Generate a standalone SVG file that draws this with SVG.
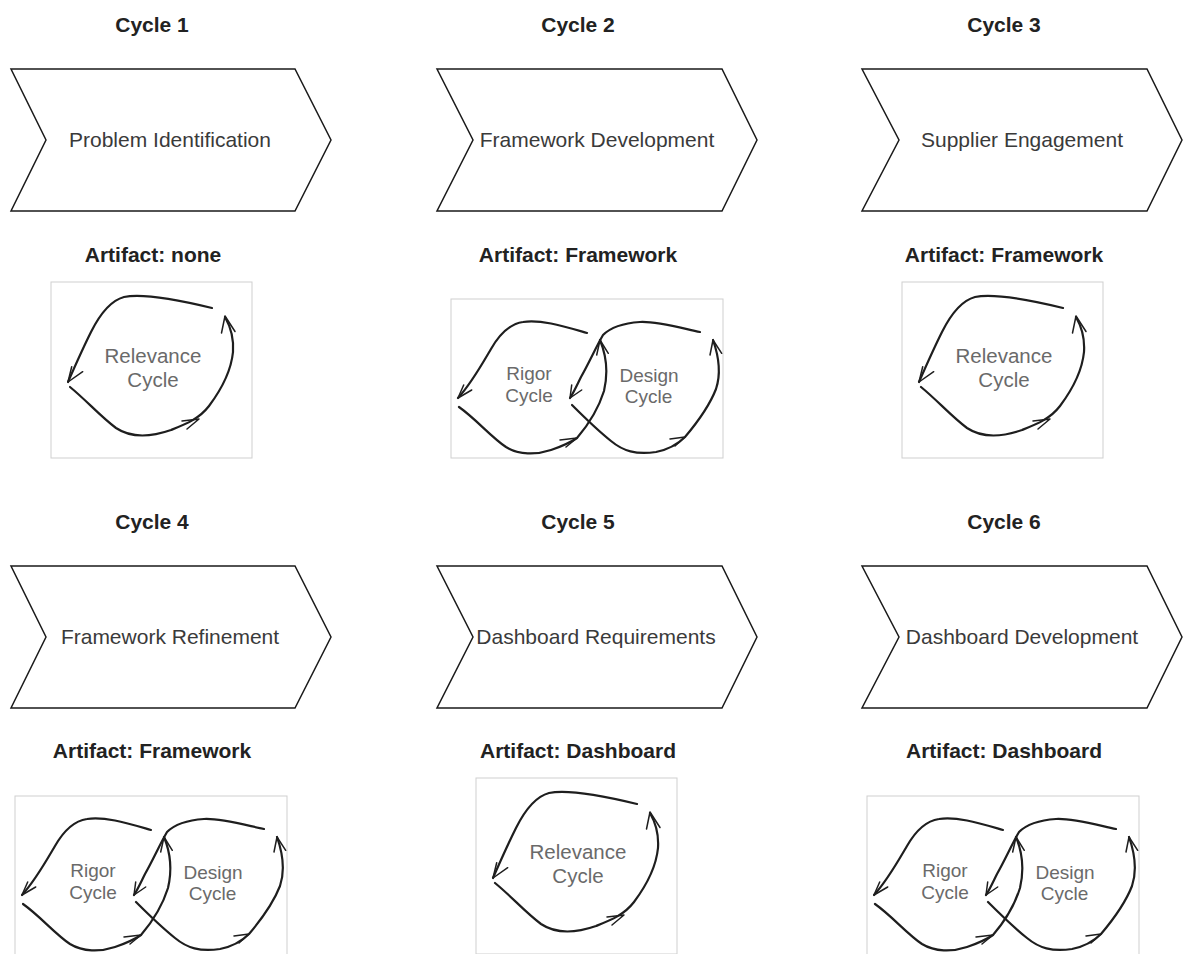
<svg xmlns="http://www.w3.org/2000/svg" xmlns:xlink="http://www.w3.org/1999/xlink" width="1183" height="954" viewBox="0 0 1183 954">
<style>
.chev{fill:#fff;stroke:#1a1a1a;stroke-width:1.5;stroke-linejoin:miter}
.title{font-family:"Liberation Sans",Arial,sans-serif;font-size:21px;font-weight:bold;fill:#222;text-anchor:middle}
.ctext{font-family:"Liberation Sans",Arial,sans-serif;font-size:21px;fill:#3a3a3a;text-anchor:middle}
.box{fill:#fff;stroke:#cfcfcf;stroke-width:1}
.sk{fill:none;stroke:#1e1e1e;stroke-width:2.2;stroke-linecap:round;stroke-linejoin:round}
.ah{fill:none;stroke:#1e1e1e;stroke-width:1.5;stroke-linecap:round;stroke-linejoin:round}
.lbl{font-family:"Liberation Sans",Arial,sans-serif;fill:#6a6a6a;text-anchor:middle}
</style>
<defs>
<g id="relevance">
<rect class="box" x="0" y="0" width="201" height="176"/>
<path class="sk" d="M161,26 C128,18 92,11 73,15 C58,19 48,34 40,50 C32,66 24,84 17,100"/>
<path class="ah" d="M20.7,84.7 L17,100 L31.7,89.7"/>
<path class="sk" d="M19,105 C35,118 50,135 65,146 C80,156 100,155 120,148 C135,142 148,137 158,124 C170,108 180,90 182,70 C183,55 178,42 174,35"/>
<path class="ah" d="M131,139 L148,137 L136,147"/>
<path class="ah" d="M170.5,51 L174,34 L184,49.5"/>
<text class="lbl" font-size="20.5" x="102" y="81">Relevance</text>
<text class="lbl" font-size="20.5" x="102" y="104.5">Cycle</text>
</g>
<g id="rigordesign">
<rect class="box" x="0" y="0" width="272" height="159"/>
<path class="sk" d="M136,34 C115,28 90,20 72,23 C58,25 48,36 40,50 C30,67 20,85 7,99"/>
<path class="ah" d="M12.7,86 L7,99 L20.7,91"/>
<path class="sk" d="M8,108 C25,120 40,138 55,148 C68,156 85,156 100,151 C112,147 120,143 126,139 C138,125 148,108 153,92 C157,75 156,58 149,41"/>
<path class="ah" d="M109,141 L126,139 L115,148"/>
<path class="ah" d="M145.7,56 L149,41 L157.3,54.3"/>
<path class="sk" d="M249,33 C230,29 205,22 189,23 C175,24 160,28 152,36 C145,48 138,64 130,78 C126,86 123,93 119,99"/>
<path class="ah" d="M120.7,86 L119,99 L130.7,91"/>
<path class="sk" d="M121,106 C130,115 145,130 160,142 C172,152 185,156 205,153 C220,150 228,144 234,138 C245,125 258,108 265,90 C270,75 268,58 262,41"/>
<path class="ah" d="M219,140 L234,138 L224,147"/>
<path class="ah" d="M259,56 L262,41 L270.7,54.3"/>
<text class="lbl" font-size="19" x="78" y="81">Rigor</text>
<text class="lbl" font-size="19" x="78" y="102.5">Cycle</text>
<text class="lbl" font-size="19" x="198" y="82.5">Design</text>
<text class="lbl" font-size="19" x="197.5" y="104">Cycle</text>
</g>
</defs>

<g id="cycle1">
<text class="title" x="152" y="32">Cycle 1</text>
<polygon class="chev" points="11,69 295,69 331,140 295,211 11,211 46,140"/>
<text class="ctext" x="170" y="147">Problem Identification</text>
<text class="title" x="153" y="262">Artifact: none</text>
<use xlink:href="#relevance" href="#relevance" x="51" y="282"/>
</g>

<g id="cycle2">
<text class="title" x="578" y="32">Cycle 2</text>
<polygon class="chev" points="437,69 722,69 757,140 722,211 437,211 473,140"/>
<text class="ctext" x="597" y="147">Framework Development</text>
<text class="title" x="578" y="262">Artifact: Framework</text>
<use xlink:href="#rigordesign" href="#rigordesign" x="451" y="299"/>
</g>

<g id="cycle3">
<text class="title" x="1004" y="32">Cycle 3</text>
<polygon class="chev" points="862,69 1147,69 1182,140 1147,211 862,211 899,140"/>
<text class="ctext" x="1022" y="147">Supplier Engagement</text>
<text class="title" x="1004" y="262">Artifact: Framework</text>
<use xlink:href="#relevance" href="#relevance" x="902" y="282"/>
</g>

<g id="cycle4">
<text class="title" x="152" y="529">Cycle 4</text>
<polygon class="chev" points="11,566 295,566 331,637 295,708 11,708 46,637"/>
<text class="ctext" x="170" y="644">Framework Refinement</text>
<text class="title" x="152" y="758">Artifact: Framework</text>
<use xlink:href="#rigordesign" href="#rigordesign" x="15" y="796"/>
</g>

<g id="cycle5">
<text class="title" x="578" y="529">Cycle 5</text>
<polygon class="chev" points="437,566 722,566 757,637 722,708 437,708 473,637"/>
<text class="ctext" x="596" y="644">Dashboard Requirements</text>
<text class="title" x="578" y="758">Artifact: Dashboard</text>
<use xlink:href="#relevance" href="#relevance" x="476" y="778"/>
</g>

<g id="cycle6">
<text class="title" x="1004" y="529">Cycle 6</text>
<polygon class="chev" points="862,566 1147,566 1182,637 1147,708 862,708 899,637"/>
<text class="ctext" x="1022" y="644">Dashboard Development</text>
<text class="title" x="1004" y="758">Artifact: Dashboard</text>
<use xlink:href="#rigordesign" href="#rigordesign" x="867" y="796"/>
</g>

<g id="connectors"></g>
</svg>
